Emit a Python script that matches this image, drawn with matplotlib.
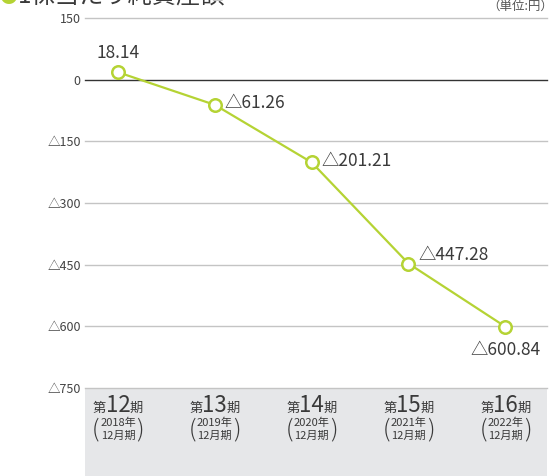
import matplotlib
matplotlib.use("Agg")
import matplotlib.pyplot as plt
import matplotlib.transforms as mtransforms
from matplotlib.patches import Rectangle

plt.rcParams['font.family'] = ['Noto Sans CJK JP', 'DejaVu Sans']

periods = ["12", "13", "14", "15", "16"]
years = ["2018", "2019", "2020", "2021", "2022"]
values = [18.14, -61.26, -201.21, -447.28, -600.84]
yticks = [150, 0, -150, -300, -450, -600, -750]

green = "#b5d334"
txt = "#3a3a3a"


def fmt(v):
    # negative numbers shown with a triangle
    if v < 0:
        return "\u25b3" + f"{-v:,.2f}" if isinstance(v, float) else "\u25b3" + str(-v)
    return f"{v:.2f}" if isinstance(v, float) else str(v)


fig = plt.figure(figsize=(5.55, 4.76), dpi=100)
ax = fig.add_axes([85 / 555, 1 - 388 / 476, 462 / 555, 370 / 476])

x = list(range(len(values)))
ax.set_xlim(-0.34, 4.43)
ax.set_ylim(-750, 150)

# gray band under the plot for the category labels
band = Rectangle((85 / 555, 0), 462 / 555, 1 - 388 / 476,
                 transform=fig.transFigure, facecolor="#e6e7e9",
                 edgecolor="none", zorder=-1)
fig.patches.append(band)

for t in yticks:
    if t == 0:
        ax.axhline(t, color="#333333", lw=1.0, zorder=1, clip_on=False)
    else:
        ax.axhline(t, color="#c4c4c4", lw=1.0, zorder=1, clip_on=False)

ax.set_yticks(yticks)
ax.set_yticklabels([fmt(t) for t in yticks], fontsize=9, color="#444444")
ax.tick_params(axis="y", length=0, pad=3)
ax.set_xticks([])
for s in ax.spines.values():
    s.set_visible(False)

ax.plot(x, values, color=green, lw=1.6, marker="o", markersize=9,
        markerfacecolor="white", markeredgecolor=green, markeredgewidth=1.8,
        zorder=3, clip_on=False)

# value labels
ax.annotate(fmt(values[0]), (x[0], values[0]), xytext=(0, 7), textcoords="offset points",
            ha="center", va="bottom", fontsize=12.5, color=txt)
for i, dy in zip(range(1, 4), [1, 1, 6]):
    ax.annotate(fmt(values[i]), (x[i], values[i]), xytext=(7, dy), textcoords="offset points",
                ha="left", va="center", fontsize=12.5, color=txt)
ax.annotate(fmt(values[4]), (x[4], values[4]), xytext=(0, -10), textcoords="offset points",
            ha="center", va="top", fontsize=12.5, color=txt)

# category labels in the gray band
base = mtransforms.blended_transform_factory(ax.transData, fig.transFigure)
for i, (p, yr) in enumerate(zip(periods, years)):
    y1 = 1 - 412 / 476
    ax.text(i, y1, p, transform=base, ha="center", va="baseline",
            fontsize=16, color=txt)
    t = mtransforms.offset_copy(base, fig=fig, x=-12, y=0, units="dots")
    ax.text(i, y1, "第", transform=t, ha="right", va="baseline", fontsize=9.5, color=txt)
    t = mtransforms.offset_copy(base, fig=fig, x=12, y=0, units="dots")
    ax.text(i, y1, "期", transform=t, ha="left", va="baseline", fontsize=9.5, color=txt)
    ax.text(i, 1 - 423 / 476, yr + "年", transform=base, ha="center", va="center",
            fontsize=8, color=txt)
    ax.text(i, 1 - 436 / 476, "12月期", transform=base, ha="center", va="center",
            fontsize=8, color=txt)
    t = mtransforms.offset_copy(base, fig=fig, x=-22, y=0, units="dots")
    ax.text(i, 1 - 430 / 476, "(", transform=t, ha="center", va="center",
            fontsize=17, color=txt, fontweight="light")
    t = mtransforms.offset_copy(base, fig=fig, x=22, y=0, units="dots")
    ax.text(i, 1 - 430 / 476, ")", transform=t, ha="center", va="center",
            fontsize=17, color=txt, fontweight="light")

# title (cut off at the top) and unit
fig.text(8 / 555, 1 - 3 / 476, "\u25cf", color=green, fontsize=13, ha="center", va="baseline")
fig.text(18 / 555, 1 - 4 / 476, "1株当たり純資産額", color=txt, fontsize=17.5,
         ha="left", va="baseline")
fig.text(553 / 555, 1 - 6 / 476, "（単位:円）", color="#555555", fontsize=9,
         ha="right", va="center")

fig.savefig("out.png", dpi=100)
